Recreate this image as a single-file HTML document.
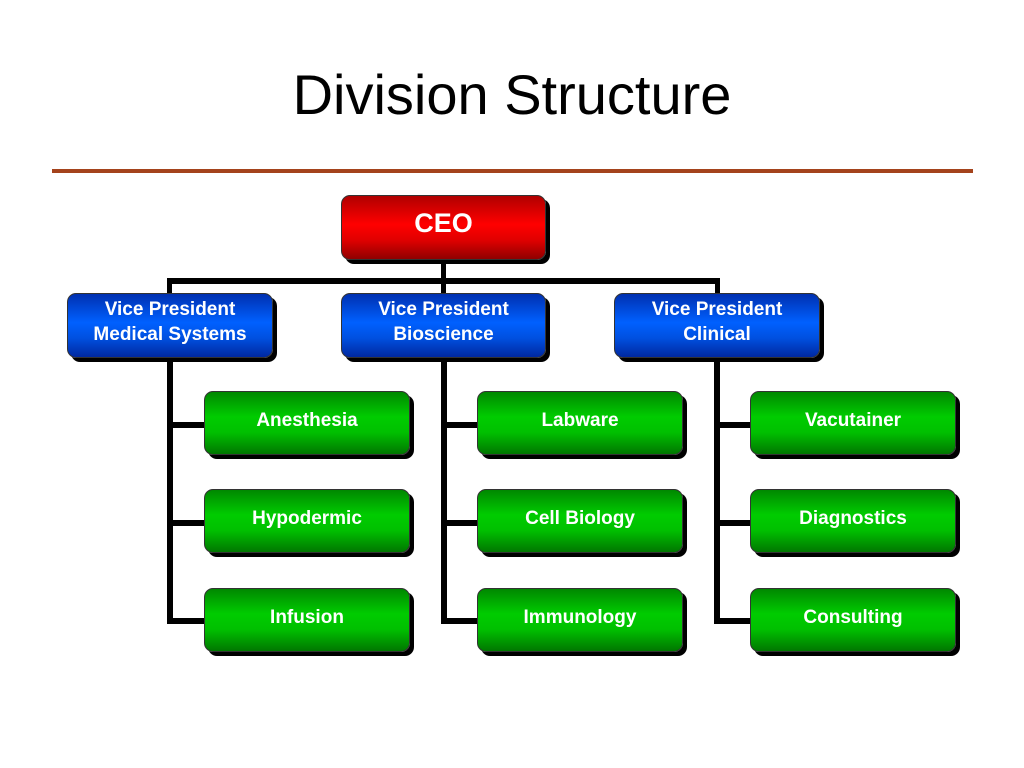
<!DOCTYPE html>
<html><head><style>
body{margin:0;width:1024px;height:768px;background:#fff;position:relative;overflow:hidden;font-family:"Liberation Sans",Arial,sans-serif}
.t{position:absolute;left:0;width:1024px;top:62px;text-align:center;font-size:56px;color:#000}
.hr{position:absolute;left:52px;top:169px;width:921px;height:4px;background:#a4431c}
.l{position:absolute;background:#000}
.b{position:absolute;border-radius:9px;box-shadow:4px 4px 0 #000;border:1px solid #333;color:#fff;font-weight:bold;display:flex;align-items:center;justify-content:center;text-align:center;box-sizing:border-box}
.r{background:linear-gradient(#b00000,#ff0000 45%,#e00000 70%,#900000);font-size:27px}
.bl{background:linear-gradient(#0030b0,#0060ff 45%,#0050e0 70%,#0028a0);font-size:19px;line-height:25px}
.g{background:linear-gradient(#008800,#00cc00 40%,#00c000 65%,#007700);font-size:19px;width:206px;height:64px}
</style></head><body>
<div class="t">Division Structure</div>
<div class="hr"></div>
<div class="l" style="left:441px;top:262px;width:5px;height:31px"></div>
<div class="l" style="left:167px;top:278px;width:553px;height:6px"></div>
<div class="l" style="left:167px;top:278px;width:5px;height:15px"></div>
<div class="l" style="left:715px;top:278px;width:5px;height:15px"></div>
<div class="l" style="left:167px;top:360px;width:6px;height:264px"></div>
<div class="l" style="left:441px;top:360px;width:6px;height:264px"></div>
<div class="l" style="left:714px;top:360px;width:6px;height:264px"></div>
<div class="l" style="left:167px;top:422px;width:38px;height:6px"></div>
<div class="l" style="left:167px;top:520px;width:38px;height:6px"></div>
<div class="l" style="left:167px;top:618px;width:38px;height:6px"></div>
<div class="l" style="left:441px;top:422px;width:38px;height:6px"></div>
<div class="l" style="left:441px;top:520px;width:38px;height:6px"></div>
<div class="l" style="left:441px;top:618px;width:38px;height:6px"></div>
<div class="l" style="left:714px;top:422px;width:38px;height:6px"></div>
<div class="l" style="left:714px;top:520px;width:38px;height:6px"></div>
<div class="l" style="left:714px;top:618px;width:38px;height:6px"></div>
<div class="b r" style="left:341px;top:195px;width:205px;height:65px;padding-bottom:8px">CEO</div>
<div class="b bl" style="left:67px;top:293px;width:206px;height:65px;padding-bottom:8px">Vice President<br>Medical Systems</div>
<div class="b bl" style="left:341px;top:293px;width:205px;height:65px;padding-bottom:8px">Vice President<br>Bioscience</div>
<div class="b bl" style="left:614px;top:293px;width:206px;height:65px;padding-bottom:8px">Vice President<br>Clinical</div>
<div class="b g" style="left:204px;top:391px;padding-bottom:4px">Anesthesia</div>
<div class="b g" style="left:204px;top:489px;padding-bottom:4px">Hypodermic</div>
<div class="b g" style="left:204px;top:588px;padding-bottom:4px">Infusion</div>
<div class="b g" style="left:477px;top:391px;padding-bottom:4px">Labware</div>
<div class="b g" style="left:477px;top:489px;padding-bottom:4px">Cell Biology</div>
<div class="b g" style="left:477px;top:588px;padding-bottom:4px">Immunology</div>
<div class="b g" style="left:750px;top:391px;padding-bottom:4px">Vacutainer</div>
<div class="b g" style="left:750px;top:489px;padding-bottom:4px">Diagnostics</div>
<div class="b g" style="left:750px;top:588px;padding-bottom:4px">Consulting</div>
</body></html>
